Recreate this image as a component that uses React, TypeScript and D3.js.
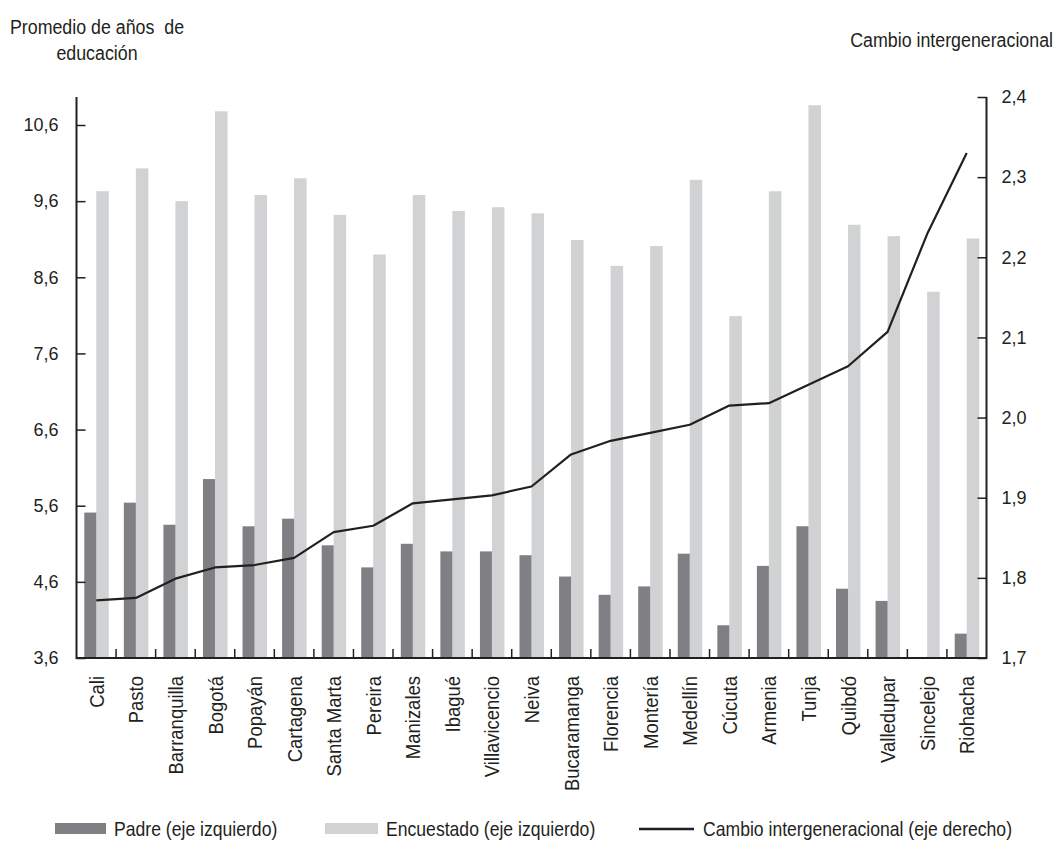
import React, { useEffect, useRef } from 'react';
import * as d3 from 'd3';

const cities = ["Cali", "Pasto", "Barranquilla", "Bogotá", "Popayán", "Cartagena", "Santa Marta", "Pereira", "Manizales", "Ibagué", "Villavicencio", "Neiva", "Bucaramanga", "Florencia", "Montería", "Medellín", "Cúcuta", "Armenia", "Tunja", "Quibdó", "Valledupar", "Sincelejo", "Riohacha"];
const padre = [5.51, 5.64, 5.35, 5.95, 5.33, 5.43, 5.08, 4.79, 5.10, 5.00, 5.00, 4.95, 4.67, 4.43, 4.54, 4.97, 4.03, 4.81, 5.33, 4.51, 4.35, null, 3.92];
const encuestado = [9.73, 10.03, 9.60, 10.78, 9.68, 9.90, 9.42, 8.90, 9.68, 9.47, 9.52, 9.44, 9.09, 8.75, 9.01, 9.88, 8.09, 9.73, 10.86, 9.29, 9.14, 8.41, 9.11];
const cambio = [1.772, 1.775, 1.799, 1.813, 1.816, 1.825, 1.857, 1.865, 1.893, 1.898, 1.903, 1.914, 1.954, 1.971, 1.981, 1.991, 2.015, 2.018, 2.041, 2.064, 2.107, 2.229, 2.330];
const leftTicks = [3.6, 4.6, 5.6, 6.6, 7.6, 8.6, 9.6, 10.6];
const rightTicks = [1.7, 1.8, 1.9, 2.0, 2.1, 2.2, 2.3, 2.4];

const font = "'Liberation Sans', Arial, sans-serif";
const squeeze = 0.88; // condensed look
const cPadre = "#808084";
const cEnc = "#d1d2d4";
const cLine = "#231f20";

const App = () => {
    const ref = useRef<SVGSVGElement>(null);

    useEffect(() => {
        const svg = d3.select(ref.current);
        svg.selectAll("*").remove();

        const left = 76.5, right = 986.5, top = 97, bottom = 658;
        const x = d3.scaleBand().domain(cities).range([left, right]).padding(0);
        const yL = d3.scaleLinear().domain([3.6, 10.6]).range([bottom, 125]);
        const yR = d3.scaleLinear().domain([1.7, 2.4]).range([bottom, top]);
        const barW = 12;
        const fmt = (d: number) => d.toFixed(1).replace(".", ",");

        // narrow text helper
        const label = (parent: any, px: number, py: number, txt: string, anchor = "start", k = squeeze) =>
            parent.append("text")
                .attr("transform", `translate(${px},${py}) scale(${k},1)`)
                .attr("text-anchor", anchor)
                .style("white-space", "pre")
                .text(txt);

        // bars
        const g = svg.append("g");
        g.selectAll(".enc").data(cities).join("rect")
            .attr("x", (d) => x(d)! + x.bandwidth() / 2)
            .attr("width", barW + 0.5)
            .attr("y", (d, i) => yL(encuestado[i]))
            .attr("height", (d, i) => bottom - yL(encuestado[i]))
            .attr("fill", cEnc);
        g.selectAll(".padre").data(cities.filter((c, i) => padre[i] != null)).join("rect")
            .attr("x", (d) => x(d)! + x.bandwidth() / 2 - barW)
            .attr("width", barW)
            .attr("y", (d) => yL(padre[cities.indexOf(d)] as number))
            .attr("height", (d) => bottom - yL(padre[cities.indexOf(d)] as number))
            .attr("fill", cPadre);

        // line
        const line = d3.line<number>()
            .x((d, i) => x(cities[i])! + x.bandwidth() / 2)
            .y((d) => yR(d));
        svg.append("path")
            .attr("d", line(cambio))
            .attr("fill", "none")
            .attr("stroke", cLine)
            .attr("stroke-width", 2.2)
            .attr("stroke-linejoin", "round");

        // axes
        const axL = svg.append("g").attr("transform", `translate(${left},0)`)
            .call(d3.axisLeft(yL).tickValues(leftTicks).tickSize(-9).tickSizeOuter(0).tickPadding(18).tickFormat(fmt as any));
        const axR = svg.append("g").attr("transform", `translate(${right},0)`)
            .call(d3.axisRight(yR).tickValues(rightTicks).tickSize(-9).tickSizeOuter(0).tickPadding(15).tickFormat(fmt as any));
        [axL, axR].forEach((ax) => {
            ax.select(".domain").remove();
            ax.selectAll("line").attr("stroke", cLine).attr("stroke-width", 1.5);
            ax.selectAll("text").attr("font-family", font).attr("font-size", 18).attr("fill", cLine);
        });
        svg.append("path")
            .attr("d", `M${left},${top}V${bottom}H${right}V${top}`)
            .attr("fill", "none")
            .attr("stroke", cLine)
            .attr("stroke-width", 2);

        // category ticks and labels
        svg.append("g").selectAll("line").data(cities.slice(1)).join("line")
            .attr("x1", (d) => x(d)!).attr("x2", (d) => x(d)!)
            .attr("y1", bottom).attr("y2", bottom - 9)
            .attr("stroke", cLine).attr("stroke-width", 1.5);
        svg.append("g").selectAll("text").data(cities).join("text")
            .attr("transform", (d) => `translate(${x(d)! + x.bandwidth() / 2},676) rotate(-90) scale(${squeeze},1)`)
            .attr("dy", "0.36em")
            .attr("text-anchor", "end")
            .attr("font-family", font)
            .attr("font-size", 21)
            .attr("fill", cLine)
            .text((d) => d);

        // axis titles
        const t = svg.append("g").attr("font-family", font).attr("font-size", 20).attr("fill", cLine);
        label(t, 97, 34, "Promedio de años  de", "middle", 0.89);
        label(t, 97, 60, "educación", "middle", 0.89);
        label(t, 1053, 47, "Cambio intergeneracional", "end", 0.89);

        // legend
        const ly = 829;
        const lg = svg.append("g").attr("font-family", font).attr("font-size", 20).attr("fill", cLine);
        lg.append("rect").attr("x", 55).attr("y", ly - 6).attr("width", 51).attr("height", 11).attr("fill", cPadre);
        label(lg, 114, ly + 7, "Padre (eje izquierdo)");
        lg.append("rect").attr("x", 325).attr("y", ly - 6).attr("width", 53).attr("height", 11).attr("fill", cEnc);
        label(lg, 386, ly + 7, "Encuestado (eje izquierdo)");
        lg.append("line").attr("x1", 639).attr("x2", 694).attr("y1", ly).attr("y2", ly)
            .attr("stroke", cLine).attr("stroke-width", 2.5);
        label(lg, 703, ly + 7, "Cambio intergeneracional (eje derecho)");
    }, []);

    return (
        <svg ref={ref} width={1057} height={844}
            style={{ position: "absolute", left: 0, top: 0, background: "#fff" }} />
    );
};

export default App;
